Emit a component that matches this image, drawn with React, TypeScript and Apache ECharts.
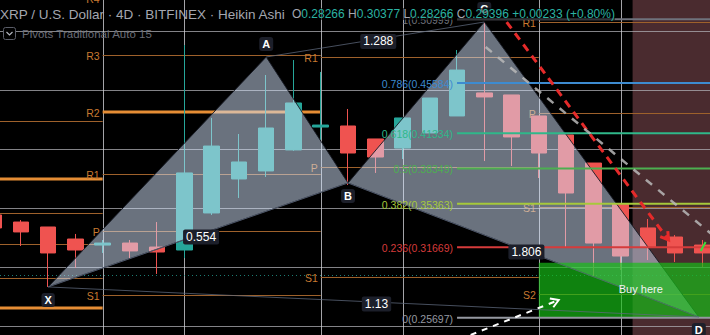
import React, { useEffect, useRef } from "react";
import * as echarts from "echarts";

// ---------------- data ----------------
const candleLabels = ["K1","K2","K3","K4","K5","K6","K7","K8","K9","K10","K11","K12","K13","K14","K15","K16","K17","K18","K19","K20","K21","K22","K23","K24","K25","K26","K27"];
const candleOpen = [0.3441,0.3381,0.3339,0.3237,0.3186,0.3203,0.3169,0.3144,0.3458,0.3746,0.3814,0.3992,0.4186,0.4195,0.4085,0.4008,0.4136,0.4280,0.4475,0.4458,0.4280,0.4119,0.3881,0.3534,0.3331,0.3254,0.3186];
const candleClose = [0.3331,0.3297,0.3119,0.3144,0.3203,0.3136,0.3127,0.3797,0.4025,0.3890,0.4178,0.4390,0.4203,0.3966,0.3932,0.4263,0.4432,0.4669,0.4441,0.4102,0.3966,0.3627,0.3203,0.3093,0.3169,0.3119,0.3119];
const candleLow = [0.3297,0.3178,0.2831,0.2992,0.3119,0.3076,0.2941,0.3076,0.3441,0.3585,0.3763,0.3985,0.4076,0.3695,0.3797,0.3915,0.4136,0.4280,0.3898,0.3856,0.3754,0.3169,0.2915,0.2975,0.3059,0.3042,0.3000];
const candleHigh = [0.3466,0.3398,0.3339,0.3280,0.3229,0.3229,0.3381,0.4881,0.4263,0.4127,0.4627,0.4754,0.4653,0.4339,0.4085,0.4263,0.4432,0.4839,0.5076,0.4458,0.4280,0.4119,0.3881,0.3534,0.3407,0.3271,0.3229];

const gridPrices = [0.25, 0.3, 0.35, 0.4, 0.45, 0.5];
const gridIdx = [4, 7, 12, 15, 20, 23];

const pivotStart = [-0.8,-0.8,-0.8,-0.8,-0.8,-0.8, 4,4,4,4,4,4, 12,12,12, 20,20,20,20];
const pivotEnd = [4,4,4,4,4,4, 12,12,12,12,12,12, 20,20,20, 27,27,27,27];
const pivotPrice = [0.4237,0.3746,0.3458,0.3195,0.2907,0.2653, 0.5280,0.4797,0.4314,0.3788,0.3305,0.2763, 0.4780,0.3847,0.2915, 0.5076,0.4305,0.3508,0.2771];
const pivotLabel = ["","","","","","", "R4","R3","R2","R1","P","S1", "R1","P","S1", "R1","P","S1","S2"];
const pivotThick = [false,true,false,false,false,true, false,false,true,false,false,false, false,false,false, false,false,false,false];

const fibRatios = ["1","0.786","0.618","0.5","0.382","0.236","0"];
const fibPrices = [0.50999,0.45584,0.41334,0.38349,0.35363,0.31669,0.25697];
const fibColors = ["#6f727c","#3d8bd0","#2fb88a","#4caf50","#a6c93b","#d63b3b","#9598a1"];
const fibStartIdx = 17;

const patternNames = ["X","A","B","C","D"];
const patternIdx = [2, 10, 13, 18, 25.87];
const patternPrice = [0.2831, 0.4780, 0.3712, 0.5076, 0.2576];
const patternLabelBelow = [true, false, true, false, true];
const triangles = [[0,1,2],[2,3,4]];
const ratioFrom = [0, 1, 2, 0];
const ratioTo = [2, 3, 4, 4];
const ratioText = ["0.554", "1.288", "1.806", "1.13"];

const lastPriceLine = 0.2932;
const zoneStartIdx = 23.44;
const buyBoxStartIdx = 20;
const buyBoxTop = 0.3036;
const buyBoxBottom = 0.25697;
const buyText = "Buy here";
const buyTextIdx = 23.74;
const buyTextPrice = 0.2814;

const trendFromIdx = [18.82, 18.05, 17.5, 25.94];
const trendFromPrice = [0.5076, 0.4864, 0.2424, 0.3136];
const trendToIdx = [24.76, 26.38, 20.73, 26.12];
const trendToPrice = [0.3229, 0.3271, 0.2720, 0.3212];
const trendColor = ["#e52a2a", "rgba(185,185,185,0.85)", "#ffffff", "#3ddc3d"];
const trendWidth = [3, 2.5, 2, 2];
const trendDash = [[8, 6], [8, 8], [6, 6], null];
const trendArrow = [true, false, true, false];

const headerTitle = "XRP / U.S. Dollar · 4D · BITFINEX · Heikin Ashi";
const ohlcKeys = ["O", "H", "L", "C"];
const ohlcValues = ["0.28266", "0.30377", "0.28266", "0.29396"];
const changeText = "+0.00233 (+0.80%)";
const indicatorText = "Pivots Traditional Auto 15";

// ---------------- layout constants ----------------
const SHIFT = 20; // the chart div starts 20px left of the page so the first candle is cut
const X_MIN = -0.5, X_MAX = 26.5, Y_MIN = 0.24237, Y_MAX = 0.52627;
const FONT = "'Liberation Sans', Arial, sans-serif";
const crisp = (v: number) => Math.round(v) + 0.5;

function buildOption(): any {
  const series: any[] = [];

  series.push({
    type: "custom", xAxisIndex: 1, z: 1, silent: true, clip: false,
    data: [[zoneStartIdx, Y_MAX]],
    renderItem: (_p: any, api: any) => {
      const a = api.coord([zoneStartIdx, Y_MAX]);
      const b = api.coord([X_MAX + 1, Y_MIN]);
      return { type: "rect", shape: { x: a[0], y: a[1] - 5, width: b[0] - a[0], height: b[1] - a[1] + 10 }, style: { fill: "#4a2b2f" } };
    },
  });

  series.push({
    type: "custom", xAxisIndex: 1, z: 1, silent: true, clip: false,
    data: gridPrices.map((p) => [X_MIN, p]),
    renderItem: (params: any, api: any) => {
      const p = gridPrices[params.dataIndex];
      const a = api.coord([X_MIN, p]);
      const b = api.coord([X_MAX, p]);
      return { type: "line", shape: { x1: a[0] - 30, y1: crisp(a[1]), x2: b[0] + 30, y2: crisp(b[1]) }, style: { stroke: "rgba(175,175,180,0.75)", lineWidth: 1 } };
    },
  });

  series.push({
    type: "custom", xAxisIndex: 1, z: 1, silent: true, clip: false,
    data: gridIdx.map((x) => [x, Y_MAX]),
    renderItem: (params: any, api: any) => {
      const x = gridIdx[params.dataIndex];
      const a = api.coord([x, Y_MAX]);
      const b = api.coord([x, Y_MIN]);
      return { type: "line", shape: { x1: crisp(a[0]), y1: a[1] - 5, x2: crisp(b[0]), y2: b[1] + 5 }, style: { stroke: "rgba(205,205,210,0.8)", lineWidth: 1 } };
    },
  });

  series.push({
    type: "custom", xAxisIndex: 1, z: 1, silent: true, clip: false,
    data: [[X_MIN, lastPriceLine]],
    renderItem: (_p: any, api: any) => {
      const a = api.coord([X_MIN, lastPriceLine]);
      const b = api.coord([X_MAX, lastPriceLine]);
      return { type: "line", shape: { x1: a[0], y1: crisp(a[1]), x2: b[0], y2: crisp(b[1]) }, style: { stroke: "rgba(38,166,154,0.75)", lineWidth: 1, lineDash: [1, 3] } };
    },
  });

  series.push({
    type: "custom", xAxisIndex: 1, z: 1, silent: true, clip: false,
    data: pivotPrice.map((p, i) => [pivotStart[i], p]),
    renderItem: (params: any, api: any) => {
      const i = params.dataIndex;
      const a = api.coord([pivotStart[i], pivotPrice[i]]);
      const b = api.coord([pivotEnd[i], pivotPrice[i]]);
      const thick = pivotThick[i];
      const children: any[] = [
        { type: "line", shape: { x1: a[0], y1: thick ? a[1] : crisp(a[1]), x2: b[0], y2: thick ? b[1] : crisp(b[1]) }, style: { stroke: thick ? "#e58d35" : "#9e612b", lineWidth: thick ? 3 : 1 } },
      ];
      if (pivotLabel[i]) {
        children.push({ type: "text", x: a[0] - 3, y: a[1] + 1, style: { text: pivotLabel[i], fill: "#c97a30", fontSize: 10.5, fontFamily: FONT, align: "right", verticalAlign: "middle" } });
      }
      return { type: "group", children };
    },
  });

  series.push({
    type: "candlestick", xAxisIndex: 0, yAxisIndex: 0, z: 2, barWidth: 16,
    data: candleOpen.map((o, i) => [o, candleClose[i], candleLow[i], candleHigh[i]]),
    itemStyle: { color: "#26a69a", color0: "#ef5350", borderColor: "#26a69a", borderColor0: "#ef5350", borderWidth: 1 },
  });

  series.push({
    type: "custom", xAxisIndex: 1, z: 3, silent: true, clip: false,
    data: triangles.map((t) => [patternIdx[t[0]], patternPrice[t[0]]]),
    renderItem: (params: any, api: any) => {
      const t = triangles[params.dataIndex];
      const pts = t.map((k) => api.coord([patternIdx[k], patternPrice[k]]));
      return { type: "polygon", shape: { points: pts }, style: { fill: "rgba(212,228,252,0.5)", stroke: "rgba(22,25,35,0.9)", lineWidth: 1 } };
    },
  });

  series.push({
    type: "custom", xAxisIndex: 1, z: 4, silent: true, clip: false,
    data: [[buyBoxStartIdx, buyBoxTop]],
    renderItem: (_p: any, api: any) => {
      const a = api.coord([buyBoxStartIdx, buyBoxTop]);
      const b = api.coord([X_MAX + 1, buyBoxBottom]);
      return { type: "rect", shape: { x: a[0], y: a[1], width: b[0] - a[0], height: b[1] - a[1] }, style: { fill: "rgba(22,192,22,0.68)" } };
    },
  });

  series.push({
    type: "custom", xAxisIndex: 1, z: 5, silent: true, clip: false,
    data: fibPrices.map((p) => [fibStartIdx, p]),
    renderItem: (params: any, api: any) => {
      const i = params.dataIndex;
      const a = api.coord([fibStartIdx, fibPrices[i]]);
      const b = api.coord([X_MAX + 1, fibPrices[i]]);
      return {
        type: "group",
        children: [
          { type: "line", shape: { x1: a[0], y1: a[1], x2: b[0], y2: b[1] }, style: { stroke: fibColors[i], lineWidth: 2 } },
          { type: "text", x: a[0] - 4, y: a[1] + 1, style: { text: `${fibRatios[i]}(${fibPrices[i].toFixed(5)})`, fill: fibColors[i], fontSize: 10.5, fontFamily: FONT, align: "right", verticalAlign: "middle" } },
        ],
      };
    },
  });

  series.push({
    type: "custom", xAxisIndex: 1, z: 5, silent: true, clip: false,
    data: ratioFrom.map((f) => [patternIdx[f], patternPrice[f]]),
    renderItem: (params: any, api: any) => {
      const i = params.dataIndex;
      const a = api.coord([patternIdx[ratioFrom[i]], patternPrice[ratioFrom[i]]]);
      const b = api.coord([patternIdx[ratioTo[i]], patternPrice[ratioTo[i]]]);
      return { type: "line", shape: { x1: a[0], y1: a[1], x2: b[0], y2: b[1] }, style: { stroke: "rgba(95,105,125,0.75)", lineWidth: 1 } };
    },
  });

  series.push({
    type: "custom", xAxisIndex: 1, z: 6, silent: true, clip: false,
    data: trendFromIdx.map((x, i) => [x, trendFromPrice[i]]),
    renderItem: (params: any, api: any) => {
      const i = params.dataIndex;
      const a = api.coord([trendFromIdx[i], trendFromPrice[i]]);
      const b = api.coord([trendToIdx[i], trendToPrice[i]]);
      const children: any[] = [
        { type: "line", shape: { x1: a[0], y1: a[1], x2: b[0], y2: b[1] }, style: { stroke: trendColor[i], lineWidth: trendWidth[i], lineDash: trendDash[i] || undefined } },
      ];
      if (trendArrow[i]) {
        const ang = Math.atan2(b[1] - a[1], b[0] - a[0]);
        const L = 9;
        const w1 = [b[0] - L * Math.cos(ang - 0.55), b[1] - L * Math.sin(ang - 0.55)];
        const w2 = [b[0] - L * Math.cos(ang + 0.55), b[1] - L * Math.sin(ang + 0.55)];
        children.push({ type: "polyline", shape: { points: [w1, b, w2] }, style: { stroke: trendColor[i], lineWidth: trendWidth[i], fill: null } });
      }
      return { type: "group", children };
    },
  });

  series.push({
    type: "custom", xAxisIndex: 1, z: 7, silent: true, clip: false,
    data: ratioFrom.map((f) => [patternIdx[f], patternPrice[f]]),
    renderItem: (params: any, api: any) => {
      const i = params.dataIndex;
      const a = api.coord([patternIdx[ratioFrom[i]], patternPrice[ratioFrom[i]]]);
      const b = api.coord([patternIdx[ratioTo[i]], patternPrice[ratioTo[i]]]);
      return { type: "text", x: (a[0] + b[0]) / 2 + 3, y: (a[1] + b[1]) / 2 + 2, style: { text: ratioText[i], fill: "#ffffff", fontSize: 12, fontFamily: FONT, align: "center", verticalAlign: "middle", backgroundColor: "#1c1f2a", padding: [2, 3, 1, 3], borderRadius: 2 } };
    },
  });

  series.push({
    type: "custom", xAxisIndex: 1, z: 7, silent: true, clip: false,
    data: patternIdx.map((x, i) => [x, patternPrice[i]]),
    renderItem: (params: any, api: any) => {
      const i = params.dataIndex;
      const p = api.coord([patternIdx[i], patternPrice[i]]);
      return { type: "text", x: p[0], y: p[1] + (patternLabelBelow[i] ? 13 : -13), style: { text: patternNames[i], fill: "#ffffff", fontSize: 11, fontWeight: "bold", fontFamily: FONT, align: "center", verticalAlign: "middle", backgroundColor: "#1c1f2a", padding: [2, 3, 1, 3], borderRadius: 3 } };
    },
  });

  series.push({
    type: "custom", xAxisIndex: 1, z: 7, silent: true, clip: false,
    data: [[buyTextIdx, buyTextPrice]],
    renderItem: (_p: any, api: any) => {
      const p = api.coord([buyTextIdx, buyTextPrice]);
      return { type: "text", x: p[0], y: p[1], style: { text: buyText, fill: "#f4f4f4", fontSize: 11, fontFamily: FONT, align: "center", verticalAlign: "middle" } };
    },
  });

  const ohlcRich = ohlcKeys.map((k, i) => `{l|${k}}{v|${ohlcValues[i]}}`).join("{v| }") + `{v| ${changeText}}`;

  return {
    animation: false,
    backgroundColor: "#000000",
    grid: { left: 0, right: 0, top: 0, bottom: 0, containLabel: false },
    xAxis: [
      { type: "category", data: candleLabels, boundaryGap: true, show: false },
      { type: "value", min: X_MIN, max: X_MAX, show: false },
    ],
    yAxis: { type: "value", min: Y_MIN, max: Y_MAX, show: false },
    series,
    graphic: [
      { type: "text", x: SHIFT, y: 14, z: 100, style: { text: headerTitle, fill: "#a4a7b0", fontSize: 13.5, fontFamily: FONT, verticalAlign: "middle" } },
      {
        type: "text", x: SHIFT + 292, y: 14, z: 100,
        style: {
          text: ohlcRich, verticalAlign: "middle", backgroundColor: "rgba(0,0,0,0.55)",
          rich: {
            l: { fill: "#a4a7b0", fontSize: 12, fontFamily: FONT },
            v: { fill: "#2bb3a3", fontSize: 12, fontFamily: FONT },
          },
        },
      },
      { type: "rect", z: 100, shape: { x: SHIFT + 3.5, y: 27.5, width: 12, height: 12, r: 2 }, style: { fill: "#000000", stroke: "#5a5d68", lineWidth: 1 } },
      { type: "polyline", z: 101, shape: { points: [[SHIFT + 6.5, 32], [SHIFT + 9.5, 35], [SHIFT + 12.5, 32]] }, style: { stroke: "#b2b5be", lineWidth: 1.2, fill: null } },
      { type: "text", x: SHIFT + 22, y: 34, z: 100, style: { text: indicatorText, fill: "#6a6d77", fontSize: 11.5, fontFamily: FONT, verticalAlign: "middle" } },
    ],
  };
}

export default function App() {
  const ref = useRef<HTMLDivElement>(null);
  useEffect(() => {
    if (!ref.current) return;
    const chart = echarts.init(ref.current, null, { renderer: "svg" });
    chart.setOption(buildOption());
    return () => chart.dispose();
  }, []);
  return (
    <div
      ref={ref}
      style={{ position: "fixed", left: -SHIFT, top: 0, width: 736, height: 335, background: "#000", overflow: "hidden" }}
    />
  );
}
